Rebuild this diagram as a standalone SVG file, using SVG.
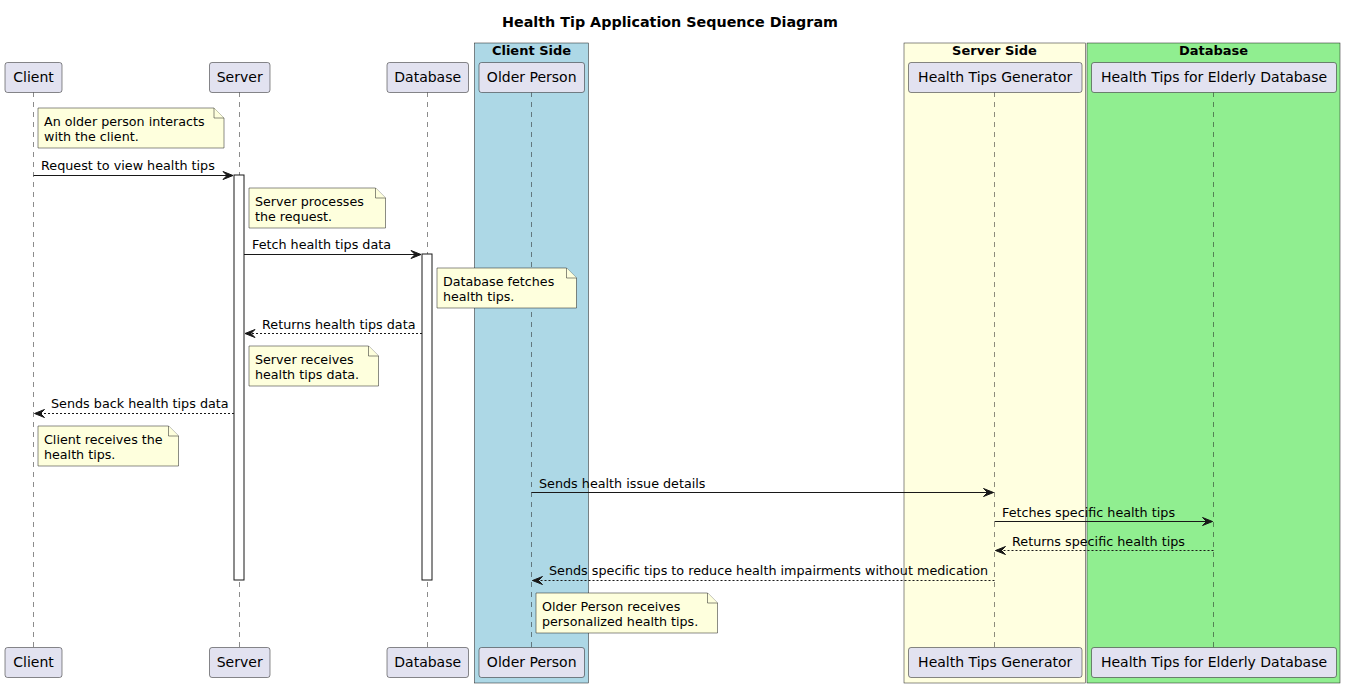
<svg xmlns="http://www.w3.org/2000/svg" width="1345" height="687" viewBox="0 0 1345 687">
<defs>
<style>
text{font-family:"DejaVu Sans","Verdana",sans-serif;fill:#000}
.title{font-size:14.3px;font-weight:bold}
.gtitle{font-size:13px;font-weight:bold}
.pt{font-size:14px}
.msg{font-size:12.75px}
.nt{font-size:12.7px}
.part{fill:#E2E2F0;stroke:#181818;stroke-width:0.5}
.life{stroke:#181818;stroke-width:0.5;stroke-dasharray:5,5;fill:none}
.note{fill:#FEFFDD;stroke:#181818;stroke-width:0.5}
.act{fill:#FFFFFF;stroke:#181818;stroke-width:1}
.line{stroke:#181818;stroke-width:1;fill:none}
.dash{stroke:#181818;stroke-width:1;fill:none;stroke-dasharray:2,2}
.grp{stroke:#181818;stroke-width:0.5}
</style>
<marker id="ah" viewBox="-1 -1 12 10" refX="10" refY="4" markerWidth="12" markerHeight="10" markerUnits="userSpaceOnUse" orient="auto">
<path d="M0,0 L10,4 L0,8 L4,4 Z" fill="#181818" stroke="#181818" stroke-width="1" stroke-linejoin="miter"/>
</marker>
</defs>
<rect width="1345" height="687" fill="#FFFFFF"/>
<text class="title" x="670" y="27" text-anchor="middle">Health Tip Application Sequence Diagram</text>

<g id="box-client-side">
<rect class="grp" x="474.5" y="43" width="114" height="640" fill="#ADD8E6"/>
<text class="gtitle" x="531.5" y="55" text-anchor="middle">Client Side</text>
</g>
<g id="box-server-side">
<rect class="grp" x="904" y="43" width="181.5" height="640" fill="#FFFFE0"/>
<text class="gtitle" x="994.5" y="55" text-anchor="middle">Server Side</text>
</g>
<g id="box-database">
<rect class="grp" x="1087" y="43" width="253" height="640" fill="#90EE90"/>
<text class="gtitle" x="1213.5" y="55" text-anchor="middle">Database</text>
</g>

<g id="lifelines">
<line class="life" x1="33.5" y1="92" x2="33.5" y2="647"/>
<line class="life" x1="239.5" y1="92" x2="239.5" y2="647"/>
<line class="life" x1="427.5" y1="92" x2="427.5" y2="647"/>
<line class="life" x1="531.5" y1="92" x2="531.5" y2="647"/>
<line class="life" x1="994.5" y1="92" x2="994.5" y2="647"/>
<line class="life" x1="1213.5" y1="92" x2="1213.5" y2="647"/>
</g>

<g id="activations">
<rect class="act" x="234" y="175" width="10" height="405"/>
<rect class="act" x="422" y="254" width="10" height="326"/>
</g>

<g id="p-client">
<rect class="part" x="5" y="62.5" width="57" height="30" rx="2.5"/>
<text class="pt" x="33.5" y="82" text-anchor="middle">Client</text>
<rect class="part" x="5" y="647.5" width="57" height="30" rx="2.5"/>
<text class="pt" x="33.5" y="667" text-anchor="middle">Client</text>
</g>
<g id="p-server">
<rect class="part" x="209.5" y="62.5" width="60.5" height="30" rx="2.5"/>
<text class="pt" x="239.7" y="82" text-anchor="middle">Server</text>
<rect class="part" x="209.5" y="647.5" width="60.5" height="30" rx="2.5"/>
<text class="pt" x="239.7" y="667" text-anchor="middle">Server</text>
</g>
<g id="p-database">
<rect class="part" x="387" y="62.5" width="81.5" height="30" rx="2.5"/>
<text class="pt" x="427.7" y="82" text-anchor="middle">Database</text>
<rect class="part" x="387" y="647.5" width="81.5" height="30" rx="2.5"/>
<text class="pt" x="427.7" y="667" text-anchor="middle">Database</text>
</g>
<g id="p-older-person">
<rect class="part" x="479" y="62.5" width="105.5" height="30" rx="2.5"/>
<text class="pt" x="531.7" y="82" text-anchor="middle">Older Person</text>
<rect class="part" x="479" y="647.5" width="105.5" height="30" rx="2.5"/>
<text class="pt" x="531.7" y="667" text-anchor="middle">Older Person</text>
</g>
<g id="p-generator">
<rect class="part" x="908.5" y="62.5" width="173.5" height="30" rx="2.5"/>
<text class="pt" x="995.2" y="82" text-anchor="middle">Health Tips Generator</text>
<rect class="part" x="908.5" y="647.5" width="173.5" height="30" rx="2.5"/>
<text class="pt" x="995.2" y="667" text-anchor="middle">Health Tips Generator</text>
</g>
<g id="p-elderly-db">
<rect class="part" x="1091.5" y="62.5" width="245" height="30" rx="2.5"/>
<text class="pt" x="1214" y="82" text-anchor="middle">Health Tips for Elderly Database</text>
<rect class="part" x="1091.5" y="647.5" width="245" height="30" rx="2.5"/>
<text class="pt" x="1214" y="667" text-anchor="middle">Health Tips for Elderly Database</text>
</g>

<g id="note-1">
<path class="note" d="M38,108 L38,148 L224,148 L224,118 L214,108 Z"/>
<path class="note" d="M214,108 L214,118 L224,118"/>
<text class="nt" x="44" y="126">An older person interacts</text>
<text class="nt" x="44" y="141">with the client.</text>
</g>
<g id="note-2">
<path class="note" d="M249,188 L249,228 L385.5,228 L385.5,198 L375.5,188 Z"/>
<path class="note" d="M375.5,188 L375.5,198 L385.5,198"/>
<text class="nt" x="255" y="206">Server processes</text>
<text class="nt" x="255" y="221">the request.</text>
</g>
<g id="note-3">
<path class="note" d="M437,268 L437,308 L576.5,308 L576.5,278 L566.5,268 Z"/>
<path class="note" d="M566.5,268 L566.5,278 L576.5,278"/>
<text class="nt" x="443" y="286">Database fetches</text>
<text class="nt" x="443" y="301">health tips.</text>
</g>
<g id="note-4">
<path class="note" d="M249,346 L249,386 L378.5,386 L378.5,356 L368.5,346 Z"/>
<path class="note" d="M368.5,346 L368.5,356 L378.5,356"/>
<text class="nt" x="255" y="364">Server receives</text>
<text class="nt" x="255" y="379">health tips data.</text>
</g>
<g id="note-5">
<path class="note" d="M38,426 L38,466 L178.5,466 L178.5,436 L168.5,426 Z"/>
<path class="note" d="M168.5,426 L168.5,436 L178.5,436"/>
<text class="nt" x="44" y="444">Client receives the</text>
<text class="nt" x="44" y="459">health tips.</text>
</g>
<g id="note-6">
<path class="note" d="M536,593 L536,633 L717.5,633 L717.5,603 L707.5,593 Z"/>
<path class="note" d="M707.5,593 L707.5,603 L717.5,603"/>
<text class="nt" x="542" y="611">Older Person receives</text>
<text class="nt" x="542" y="626">personalized health tips.</text>
</g>

<g id="connectors">
<line class="line" x1="33.5" y1="175.5" x2="233" y2="175.5" marker-end="url(#ah)"/>
<text class="msg" x="41" y="170">Request to view health tips</text>
<line class="line" x1="244" y1="254.5" x2="421" y2="254.5" marker-end="url(#ah)"/>
<text class="msg" x="252" y="249">Fetch health tips data</text>
<line class="dash" x1="422" y1="333.5" x2="245" y2="333.5" marker-end="url(#ah)"/>
<text class="msg" x="262" y="329">Returns health tips data</text>
<line class="dash" x1="234" y1="413.5" x2="34.5" y2="413.5" marker-end="url(#ah)"/>
<text class="msg" x="51" y="408">Sends back health tips data</text>
<line class="line" x1="531.5" y1="492.5" x2="993.5" y2="492.5" marker-end="url(#ah)"/>
<text class="msg" x="539" y="488">Sends health issue details</text>
<line class="line" x1="994.5" y1="521.5" x2="1212.5" y2="521.5" marker-end="url(#ah)"/>
<text class="msg" x="1002" y="517">Fetches specific health tips</text>
<line class="dash" x1="1213.5" y1="550.5" x2="995.5" y2="550.5" marker-end="url(#ah)"/>
<text class="msg" x="1012" y="546">Returns specific health tips</text>
<line class="dash" x1="994.5" y1="580.5" x2="532.5" y2="580.5" marker-end="url(#ah)"/>
<text class="msg" x="549" y="575">Sends specific tips to reduce health impairments without medication</text>
</g>
</svg>
